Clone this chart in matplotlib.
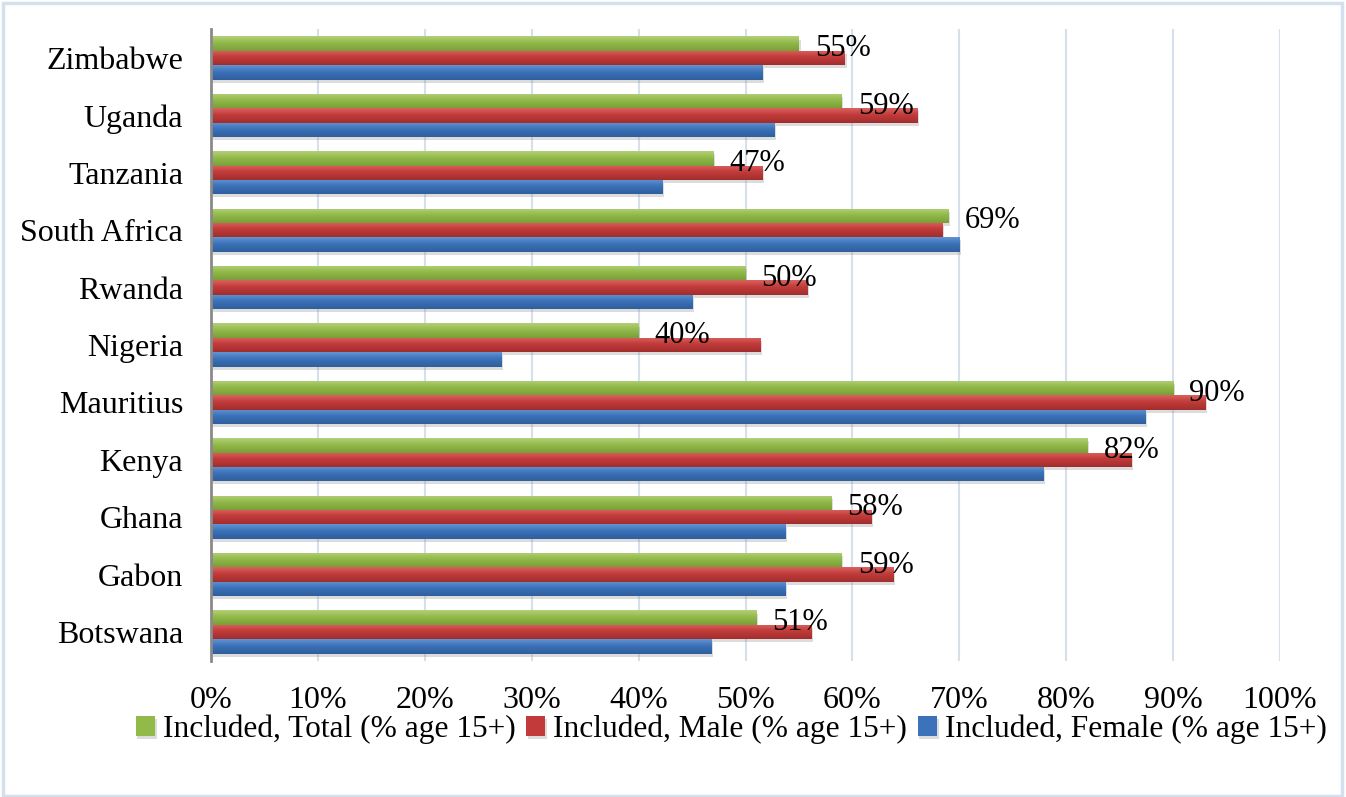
import matplotlib
matplotlib.use("Agg")
import matplotlib.pyplot as plt
import numpy as np
from matplotlib.patches import Rectangle
from matplotlib.ticker import FuncFormatter
from matplotlib.colors import LinearSegmentedColormap
import matplotlib.patheffects as pe

# Account ownership by country (% age 15+)
countries = ["Zimbabwe", "Uganda", "Tanzania", "South Africa", "Rwanda", "Nigeria",
             "Mauritius", "Kenya", "Ghana", "Gabon", "Botswana"]
total = [55, 59, 47, 69, 50, 40, 90, 82, 58, 59, 51]
male = [59.3, 66.1, 51.6, 68.4, 55.8, 51.4, 93.0, 86.1, 61.8, 63.8, 56.2]
female = [51.6, 52.7, 42.2, 70.0, 45.0, 27.2, 87.4, 77.9, 53.7, 53.7, 46.8]
series_names = ["Included, Total (% age 15+)", "Included, Male (% age 15+)",
                "Included, Female (% age 15+)"]
x_ticks = list(range(0, 101, 10))

plt.rcParams["font.family"] = ["Liberation Serif", "DejaVu Serif"]
FS = 23
FS_LEGEND = 22.6
FS_LABEL = 22

# (highlight, base, shade) for each series' bar gradient
palettes = [("#b3d07a", "#92ba49", "#7a9e38"),
            ("#d9625f", "#c23b3a", "#a02e2d"),
            ("#6394d2", "#3b72b9", "#2f5e9c")]

fig = plt.figure(figsize=(13.46, 7.97), dpi=100)
ax = fig.add_axes([0.15676, 0.17102, 0.79421, 0.79222])

y = np.arange(len(countries))
h = 0.25
grad = np.linspace(0, 1, 64).reshape(-1, 1)
shadow = [pe.SimplePatchShadow(offset=(1.2, -2.2), shadow_rgbFace="#8c8c8c", alpha=0.3),
          pe.Normal()]
for k, (vals, pal, name) in enumerate(zip([total, male, female], palettes, series_names)):
    bars = ax.barh(y + (k - 1) * h, vals, height=h, color=pal[1], label=name, zorder=3,
                   edgecolor="none", path_effects=shadow)
    cmap = LinearSegmentedColormap.from_list(f"g{k}", [(0, pal[0]), (0.45, pal[1]),
                                                       (1, pal[2])])
    for b, yc, v in zip(bars, y + (k - 1) * h, vals):
        im = ax.imshow(grad, cmap=cmap, aspect="auto", interpolation="bilinear",
                       extent=(0, v, yc + h / 2, yc - h / 2), origin="upper", zorder=3.5)
        im.set_clip_path(b)

# value labels for the total series
for i, v in enumerate(total):
    ax.annotate(f"{v}%", xy=(v, y[i] - h), xytext=(11.5, -9), textcoords="offset points",
                ha="left", va="baseline", fontsize=FS_LABEL, color="black", zorder=5)

ax.set_xlim(0, 100)
ax.set_ylim(len(countries) - 0.5, -0.5)
ax.set_xticks(x_ticks)
ax.xaxis.set_major_formatter(FuncFormatter(lambda v, p: f"{v:.0f}%"))
ax.set_yticks(y)
ax.set_yticklabels(countries)
ax.tick_params(axis="x", length=0, pad=18, labelsize=FS)
ax.tick_params(axis="y", length=0, pad=20, labelsize=FS)
ax.grid(axis="x", color="#d6e0ec", linewidth=1.5, zorder=0)
for s in ["top", "right", "bottom"]:
    ax.spines[s].set_visible(False)
ax.spines["left"].set_color("#8a8a8a")
ax.spines["left"].set_linewidth(2)
ax.spines["left"].set_zorder(4)

fig.legend(loc="center", bbox_to_anchor=(0.5431, 0.0850), ncol=3, frameon=False,
           fontsize=FS_LEGEND, handlelength=0.62, handleheight=0.62, handletextpad=0.24,
           columnspacing=0.34, borderaxespad=0, borderpad=0)

fig.patches.append(Rectangle((0.002, 0.001), 0.995, 0.995, transform=fig.transFigure,
                             fill=False, edgecolor="#d5e0ef", linewidth=2.5))

fig.savefig("out.png", dpi=100)
